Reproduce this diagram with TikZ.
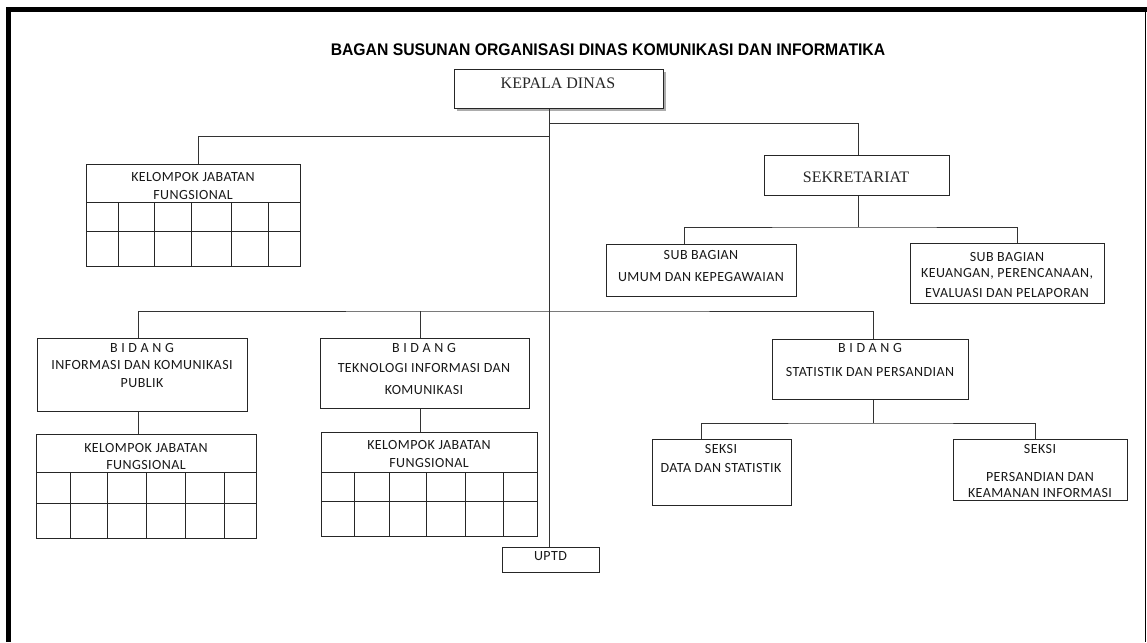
\documentclass[tikz,border=0pt]{standalone}
\usepackage{fontspec}
\usepackage{graphicx}
\setmainfont{Liberation Serif}
\newfontfamily\titlefont{Liberation Sans}
\newfontfamily\boxfont{Carlito}[LetterSpace=3]
\begin{document}
\begin{tikzpicture}[x=1pt,y=-1pt]
\tikzset{
  box/.style={draw=black!85, line width=1pt, fill=white, anchor=north west, inner sep=0pt},
  conn/.style={draw=black!80, line width=1pt},
  grid/.style={draw=black!85, line width=1pt},
  lbl/.style={font=\boxfont\fontsize{14}{14}\selectfont, text=black!90, inner sep=0pt},
  serif/.style={font=\fontsize{16}{16}\selectfont, text=black!85, inner sep=0pt},
}
\useasboundingbox (0,0) rectangle (1147,642);
% frame
\draw[line width=5pt] (6,10) -- (1147,10);
\draw[line width=5pt] (8.5,7.5) -- (8.5,642);
\draw[line width=1.5pt] (1145.5,10) -- (1145.5,642);

% title
\node[inner sep=0pt] (title) at (608,50) {\scalebox{0.936}[1]{\titlefont\bfseries\fontsize{16.8}{17}\selectfont BAGAN SUSUNAN ORGANISASI DINAS KOMUNIKASI DAN INFORMATIKA}};

% boxes
\fill[gray!65] (457,72) rectangle (666,111);
\node[box, minimum width=209pt, minimum height=39pt] (kepala) at (454,69) {};
\node[box, minimum width=214pt, minimum height=102pt] (kjf1) at (86,164) {};
\node[box, minimum width=185pt, minimum height=40pt] (sekr) at (764,155) {};
\node[box, minimum width=190pt, minimum height=52pt] (subA) at (606,244) {};
\node[box, minimum width=194pt, minimum height=60pt] (subB) at (910,243) {};
\node[box, minimum width=210pt, minimum height=73pt] (bid1) at (37,338) {};
\node[box, minimum width=209pt, minimum height=70pt] (bid2) at (320,338) {};
\node[box, minimum width=196pt, minimum height=60pt] (bid3) at (772,339) {};
\node[box, minimum width=220pt, minimum height=104pt] (kjf2) at (36,434) {};
\node[box, minimum width=216pt, minimum height=104pt] (kjf3) at (321,432) {};
\node[box, minimum width=139pt, minimum height=66pt] (seksiA) at (652,439) {};
\node[box, minimum width=174pt, minimum height=61pt] (seksiB) at (953,439) {};
\node[box, minimum width=97pt, minimum height=25pt] (uptd) at (502,547) {};

% grids
\draw[grid] (86,202) -- (300,202) (86,231) -- (300,231);
\foreach \x in {118,154,191,231,268} \draw[grid] (\x,202) -- (\x,266);
\draw[grid] (36,472) -- (256,472) (36,503) -- (256,503);
\foreach \x in {70,107.5,146,185,224} \draw[grid] (\x,472) -- (\x,538);
\draw[grid] (321,472) -- (537,472) (321,501) -- (537,501);
\foreach \x in {354,389,426,465,503} \draw[grid] (\x,472) -- (\x,536);

% connectors
\coordinate (xmain) at (549,0);
\coordinate (xkl) at (198,0);
\coordinate (xsr) at (858,0);
\coordinate (xsa) at (684,0);
\coordinate (xsb) at (1017,0);
\coordinate (xb1) at (138,0);
\coordinate (xb2) at (420,0);
\coordinate (xb3) at (873,0);
\coordinate (xda) at (701.5,0);
\coordinate (xdb) at (1035.5,0);
\coordinate (yr) at (0,123);
\coordinate (yl) at (0,136);
\coordinate (ys) at (0,227);
\coordinate (yb) at (0,311);
\coordinate (yd) at (0,423);

\draw[conn] (kepala.south -| xmain) -- (uptd.north -| xmain);
\draw[conn] (xmain |- yr) -| (sekr.north -| xsr);
\draw[conn] (xmain |- yl) -| (kjf1.north -| xkl);
\draw[conn] (sekr.south -| xsr) -- (xsr |- ys);
\draw[conn] (subA.north -| xsa) |- (xsr |- ys) -| (subB.north -| xsb);
\draw[conn] (bid1.north -| xb1) |- (xmain |- yb) -| (bid3.north -| xb3);
\draw[conn] (bid2.north -| xb2) -- (xb2 |- yb);
\draw[conn] (bid1.south -| xb1) -- (kjf2.north -| xb1);
\draw[conn] (bid2.south -| xb2) -- (kjf3.north -| xb2);
\draw[conn] (bid3.south -| xb3) -- (xb3 |- yd);
\draw[conn] (seksiA.north -| xda) |- (xb3 |- yd) -| (seksiB.north -| xdb);

% texts
\node[serif] (tkepala) at (558,83.5) {KEPALA DINAS};
\node[serif] (tsekr) at (856,177) {SEKRETARIAT};
\node[lbl] (tk1a) at (193,177) {KELOMPOK JABATAN};
\node[lbl] (tk1b) at (193,195) {FUNGSIONAL};
\node[lbl] (tsa1) at (701,255) {SUB BAGIAN};
\node[lbl] (tsa2) at (701,277) {UMUM DAN KEPEGAWAIAN};
\node[lbl] (tsb1) at (1007,257) {SUB BAGIAN};
\node[lbl] (tsb2) at (1007,274) {KEUANGAN, PERENCANAAN,};
\node[lbl] (tsb3) at (1007,293) {EVALUASI DAN PELAPORAN};
\node[lbl] (tb1a) at (142,348) {B I D A N G};
\node[lbl] (tb1b) at (142,365) {INFORMASI DAN KOMUNIKASI};
\node[lbl] (tb1c) at (142,383) {PUBLIK};
\node[lbl] (tb2a) at (424,348) {B I D A N G};
\node[lbl] (tb2b) at (424,368) {TEKNOLOGI INFORMASI DAN};
\node[lbl] (tb2c) at (424,390) {KOMUNIKASI};
\node[lbl] (tb3a) at (870,348) {B I D A N G};
\node[lbl] (tb3b) at (870,372) {STATISTIK DAN PERSANDIAN};
\node[lbl] (tk2a) at (146,448) {KELOMPOK JABATAN};
\node[lbl] (tk2b) at (146,465) {FUNGSIONAL};
\node[lbl] (tk3a) at (429,445) {KELOMPOK JABATAN};
\node[lbl] (tk3b) at (429,463) {FUNGSIONAL};
\node[lbl] (tda1) at (721,449) {SEKSI};
\node[lbl] (tda2) at (721,468) {DATA DAN STATISTIK};
\node[lbl] (tdb1) at (1040,449) {SEKSI};
\node[lbl] (tdb2) at (1040,477) {PERSANDIAN DAN};
\node[lbl] (tdb3) at (1040,493) {KEAMANAN INFORMASI};
\node[lbl] (tuptd) at (550.5,556) {UPTD};
\end{tikzpicture}
\end{document}
